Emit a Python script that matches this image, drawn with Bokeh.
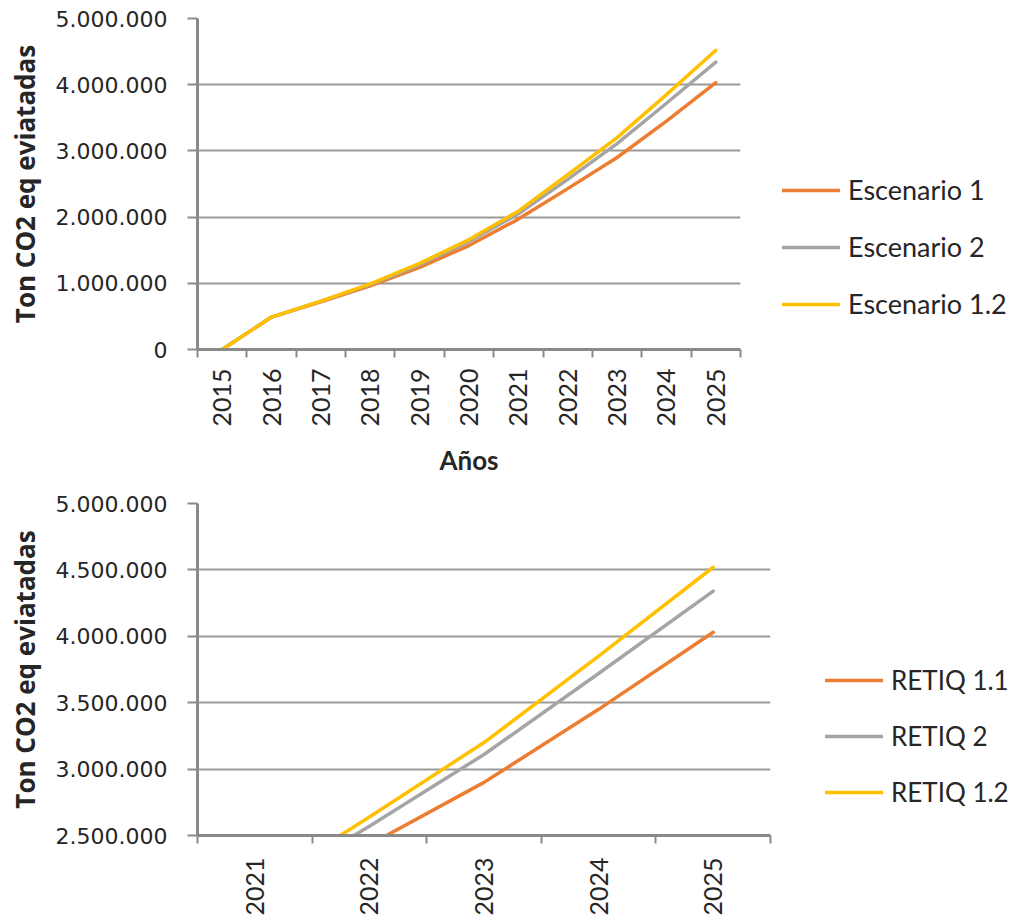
from bokeh.plotting import figure
from bokeh.models import Range1d, FixedTicker, Legend, LegendItem
from bokeh.embed import file_html
from bokeh.resources import INLINE

# ---------------- data ----------------
years_top = ["2015", "2016", "2017", "2018", "2019", "2020", "2021", "2022", "2023", "2024", "2025"]
escenario_1 = [0, 490000, 720000, 960000, 1240000, 1570000, 1970000, 2430000, 2900000, 3450000, 4030000]
escenario_2 = [0, 490000, 730000, 980000, 1280000, 1630000, 2050000, 2570000, 3110000, 3720000, 4340000]
escenario_12 = [0, 490000, 730000, 990000, 1300000, 1660000, 2090000, 2640000, 3200000, 3850000, 4520000]
names_top = ["Escenario 1", "Escenario 2", "Escenario 1.2"]

years_bottom = ["2021", "2022", "2023", "2024", "2025"]
retiq_11 = [1970000, 2430000, 2900000, 3450000, 4030000]
retiq_2 = [2050000, 2570000, 3110000, 3720000, 4340000]
retiq_12 = [2090000, 2640000, 3200000, 3850000, 4520000]
names_bottom = ["RETIQ 1.1", "RETIQ 2", "RETIQ 1.2"]

yticks_top = [0, 1000000, 2000000, 3000000, 4000000, 5000000]
yticks_bottom = [2500000, 3000000, 3500000, 4000000, 4500000, 5000000]

colors = ["#ED7D31", "#A5A5A5", "#FFC000"]
y_title = "Ton CO2 eq eviatadas"
x_title = "Años"

GRID = "#9A9A9A"
AXIS = "#8A8A8A"
TXT = "#262626"


def fmt(v):
    return f"{v:,}".replace(",", ".")


def make_chart(years, series, names, yticks, frame_w, frame_h, borders, legend_loc, legend_spacing,
               legend_font, xlabel, xlab_standoff):
    n = len(years)
    p = figure(frame_width=frame_w, frame_height=frame_h, output_backend="svg", toolbar_location=None,
               x_range=Range1d(0, n), y_range=Range1d(yticks[0], yticks[-1]),
               min_border_left=borders[0], min_border_right=borders[1],
               min_border_top=borders[2], min_border_bottom=borders[3])
    p.outline_line_color = None
    p.background_fill_color = "white"
    p.border_fill_color = "white"

    xs = [i + 0.5 for i in range(n)]
    renderers = []
    for vals, c in zip(series, colors):
        r = p.line(xs, vals, line_color=c, line_width=3.5, line_cap="round", line_join="round")
        renderers.append(r)

    # x axis: labels at category centres, tick marks between categories
    p.xaxis.ticker = FixedTicker(ticks=xs, minor_ticks=list(range(n + 1)))
    p.xaxis.major_label_overrides = {x: y for x, y in zip(xs, years)}
    p.xaxis.major_tick_out = 0
    p.xaxis.major_tick_in = 0
    p.xaxis.minor_tick_out = 8
    p.xaxis.minor_tick_in = 0
    p.xaxis.minor_tick_line_color = AXIS
    p.xaxis.minor_tick_line_width = 2
    p.xaxis.axis_line_color = AXIS
    p.xaxis.axis_line_width = 3
    p.xaxis.major_label_orientation = 1.5708
    p.xaxis.major_label_text_font = "Lato"
    p.xaxis.major_label_text_font_size = "25px"
    p.xaxis.major_label_text_color = TXT
    p.xaxis.major_label_standoff = xlab_standoff
    if xlabel:
        p.xaxis.axis_label = xlabel
        p.xaxis.axis_label_text_font = "Lato"
        p.xaxis.axis_label_text_font_style = "bold"
        p.xaxis.axis_label_text_font_size = "26px"
        p.xaxis.axis_label_text_color = TXT
        p.xaxis.axis_label_standoff = 14

    p.yaxis.ticker = FixedTicker(ticks=yticks)
    p.yaxis.major_label_overrides = {v: fmt(v) for v in yticks}
    p.yaxis.minor_tick_line_color = None
    p.yaxis.major_tick_out = 10
    p.yaxis.major_tick_in = 0
    p.yaxis.major_tick_line_color = AXIS
    p.yaxis.major_tick_line_width = 2
    p.yaxis.axis_line_color = AXIS
    p.yaxis.axis_line_width = 3
    p.yaxis.major_label_text_font = "DejaVu Sans"
    p.yaxis.major_label_text_font_size = "22px"
    p.yaxis.major_label_text_color = TXT
    p.yaxis.major_label_standoff = 20
    p.yaxis.axis_label = y_title
    p.yaxis.axis_label_text_font = "Open Sans"
    p.yaxis.axis_label_text_font_style = "bold"
    p.yaxis.axis_label_text_font_size = "26px"
    p.yaxis.axis_label_text_color = TXT
    p.yaxis.axis_label_standoff = 10

    p.xgrid.grid_line_color = None
    p.ygrid.ticker = FixedTicker(ticks=yticks)
    p.ygrid.grid_line_color = GRID
    p.ygrid.grid_line_width = 2

    legend = Legend(items=[LegendItem(label=nm, renderers=[r]) for nm, r in zip(names, renderers)],
                    location=legend_loc, orientation="vertical",
                    label_text_font="Lato", label_text_font_size=legend_font, label_text_color=TXT,
                    glyph_width=58, glyph_height=30, label_height=30, label_standoff=8,
                    spacing=legend_spacing, padding=0, margin=0,
                    border_line_color=None, background_fill_alpha=0)
    p.add_layout(legend, "right")
    return p


p1 = make_chart(years_top, [escenario_1, escenario_2, escenario_12], names_top, yticks_top,
                frame_w=543, frame_h=331, borders=(197, 273, 18, 131),
                legend_loc=(42, 29), legend_spacing=24, legend_font="27px",
                xlabel=x_title, xlab_standoff=11)
p2 = make_chart(years_bottom, [retiq_11, retiq_2, retiq_12], names_bottom, yticks_bottom,
                frame_w=573, frame_h=332, borders=(197, 243, 23, 84),
                legend_loc=(55, 27), legend_spacing=24, legend_font="26px",
                xlabel=None, xlab_standoff=14)

open("out.html", "w").write(file_html([p1, p2], INLINE))
